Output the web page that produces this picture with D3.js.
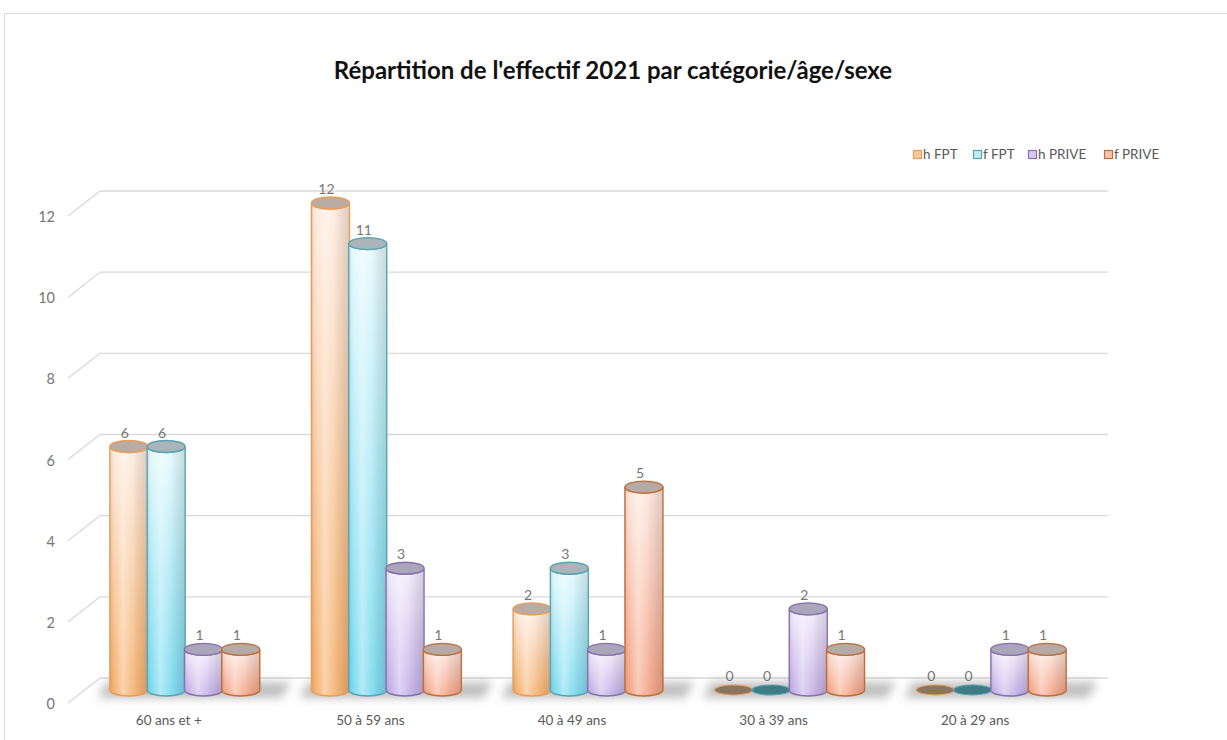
<!DOCTYPE html>
<html>
<head>
<meta charset="utf-8">
<script src="https://cdn.jsdelivr.net/npm/d3@7"></script>
<style>
  html, body { margin: 0; padding: 0; background: #fff; }
  svg { display: block; font-family: Lato, "Open Sans", sans-serif; }
</style>
</head>
<body>
<svg id="chart" width="1227" height="740"></svg>
<script>
// Effectif 2021 par tranche d'âge, sexe et catégorie
const categories = ["60 ans et +", "50 à 59 ans", "40 à 49 ans", "30 à 39 ans", "20 à 29 ans"];
const seriesNames = ["h FPT", "f FPT", "h PRIVE", "f PRIVE"];
const hFPT   = [6, 12, 2, 0, 0];
const fFPT   = [6, 11, 3, 0, 0];
const hPRIVE = [1, 3, 1, 2, 1];
const fPRIVE = [1, 1, 5, 1, 1];
const yTicks = [0, 2, 4, 6, 8, 10, 12];
const titleText = "Répartition de l'effectif 2021 par catégorie/âge/sexe";

const seriesValues = [hFPT, fFPT, hPRIVE, fPRIVE];

// colour sets for each series: body top/bottom, outline, cap, empty cap
const palette = [
  { top: "#fdebdf", bot: "#f5ae68", stroke: "#e99e57", cap: "#b8aca5", zero: "#8a7562", legend: "#f8c9a0" },
  { top: "#e6fafd", bot: "#74d9ee", stroke: "#5aa3b3", cap: "#a9b5b9", zero: "#3e7c86", legend: "#bdeef8" },
  { top: "#f3edfc", bot: "#c0abe5", stroke: "#8770ae", cap: "#aaa5b8", zero: "#6f6088", legend: "#d6c9ee" },
  { top: "#fde7df", bot: "#f4a080", stroke: "#c06d36", cap: "#b5aaa6", zero: "#8a6050", legend: "#f8c4ae" }
];

const svg = d3.select("#chart");
const defs = svg.append("defs");

// chart frame
svg.append("rect")
  .attr("x", 4.5).attr("y", 13.5)
  .attr("width", 1300).attr("height", 800)
  .attr("fill", "none").attr("stroke", "#d9d9d9").attr("stroke-width", 1);

// title
svg.append("text")
  .attr("x", 613).attr("y", 79)
  .attr("text-anchor", "middle")
  .attr("font-size", 24).attr("font-weight", 700)
  .attr("fill", "#111")
  .text(titleText);

// 3D geometry: back wall and depth offset
const wallLeft = 100, wallRight = 1108;
const depthX = -32, depthY = 25;
const y = d3.scaleLinear().domain([0, 12]).range([678, 191]);

const x0 = d3.scaleBand().domain(categories).range([wallLeft, wallRight])
  .paddingInner(0.26).paddingOuter(0.13);
const x1 = d3.scaleBand().domain(seriesNames).range([0, x0.bandwidth()]);

// back wall gridlines + diagonal side lines
const grid = svg.append("g");
yTicks.forEach(t => {
  const yy = y(t);
  grid.append("line")
    .attr("x1", wallLeft).attr("x2", wallRight)
    .attr("y1", yy).attr("y2", yy)
    .attr("stroke", "#d9d9d9").attr("stroke-width", 1.3);
  grid.append("line")
    .attr("x1", wallLeft + depthX).attr("y1", yy + depthY)
    .attr("x2", wallLeft).attr("y2", yy)
    .attr("stroke", "#d9d9d9").attr("stroke-width", 1.3);
  grid.append("text")
    .attr("x", 55).attr("y", yy + depthY + 6)
    .attr("text-anchor", "end")
    .attr("font-size", 14.5).attr("fill", "#767676")
    .text(t);
});

// shadow filter
const blur = defs.append("filter").attr("id", "shadowBlur")
  .attr("x", "-20%").attr("y", "-100%").attr("width", "140%").attr("height", "300%");
blur.append("feGaussianBlur").attr("stdDeviation", 5);

// gradients per series
palette.forEach((p, i) => {
  const g = defs.append("linearGradient").attr("id", "body" + i)
    .attr("x1", 0).attr("y1", 0).attr("x2", 0).attr("y2", 1);
  g.append("stop").attr("offset", "0%").attr("stop-color", p.top);
  g.append("stop").attr("offset", "100%").attr("stop-color", p.bot);
});
const shade = defs.append("linearGradient").attr("id", "shade")
  .attr("x1", 0).attr("y1", 0).attr("x2", 1).attr("y2", 0);
[["0%", "#000", 0.10], ["12%", "#fff", 0.05], ["35%", "#fff", 0.45], ["60%", "#fff", 0.15], ["100%", "#000", 0.12]]
  .forEach(([o, c, a]) => shade.append("stop").attr("offset", o).attr("stop-color", c).attr("stop-opacity", a));

// bars sit halfway through the depth
const midX = depthX / 2, midY = 12;
const barW = 38, ry = 6;

// floor shadows under each group
const shadows = svg.append("g").attr("filter", "url(#shadowBlur)");
categories.forEach(c => {
  const gx = x0(c) + midX;
  const gw = x0.bandwidth();
  const base = y(0) + midY;
  shadows.append("path")
    .attr("d", `M${gx - 4},${base - 8} L${gx + gw + 32},${base - 8} L${gx + gw + 22},${base + 8} L${gx - 12},${base + 8} Z`)
    .attr("fill", "#707070").attr("opacity", 0.45);
});

// cylinders
const bars = svg.append("g");
categories.forEach((c, ci) => {
  seriesNames.forEach((s, si) => {
    const v = seriesValues[si][ci];
    const p = palette[si];
    const cx = x0(c) + midX + x1(s) + x1.bandwidth() / 2;
    const rx = barW / 2;
    const yb = y(0) + midY;
    const yt = y(v) + midY;
    const g = bars.append("g");
    if (v > 0) {
      const body = `M${cx - rx},${yt} L${cx - rx},${yb} A${rx},${ry} 0 0 0 ${cx + rx},${yb} L${cx + rx},${yt} A${rx},${ry} 0 0 1 ${cx - rx},${yt} Z`;
      g.append("path").attr("d", body).attr("fill", `url(#body${si})`);
      g.append("path").attr("d", body).attr("fill", "url(#shade)")
        .attr("stroke", p.stroke).attr("stroke-width", 1.4);
      g.append("ellipse")
        .attr("cx", cx).attr("cy", yt).attr("rx", rx).attr("ry", ry)
        .attr("fill", p.cap).attr("stroke", p.stroke).attr("stroke-width", 1.4);
    } else {
      g.append("ellipse")
        .attr("cx", cx).attr("cy", yt).attr("rx", rx).attr("ry", ry - 1)
        .attr("fill", p.zero).attr("stroke", p.stroke).attr("stroke-width", 1.2);
    }
    g.append("text")
      .attr("x", cx - 4).attr("y", yt - ry - 3)
      .attr("text-anchor", "middle")
      .attr("font-size", 14).attr("fill", "#767676")
      .text(v);
  });
});

// category labels along the front edge
categories.forEach(c => {
  svg.append("text")
    .attr("x", x0(c) + x0.bandwidth() / 2 + depthX)
    .attr("y", 725)
    .attr("text-anchor", "middle")
    .attr("font-size", 13.5).attr("fill", "#595959")
    .text(c);
});

// legend
const legendX = [913, 973, 1028, 1104];
const legend = svg.append("g");
seriesNames.forEach((s, i) => {
  const p = palette[i];
  legend.append("rect")
    .attr("x", legendX[i] + 0.5).attr("y", 150.5)
    .attr("width", 8).attr("height", 8)
    .attr("fill", p.legend).attr("stroke", p.stroke).attr("stroke-width", 1.2);
  legend.append("text")
    .attr("x", legendX[i] + 10).attr("y", 159)
    .attr("font-size", 13.5).attr("fill", "#595959")
    .text(s);
});
</script>
</body>
</html>
